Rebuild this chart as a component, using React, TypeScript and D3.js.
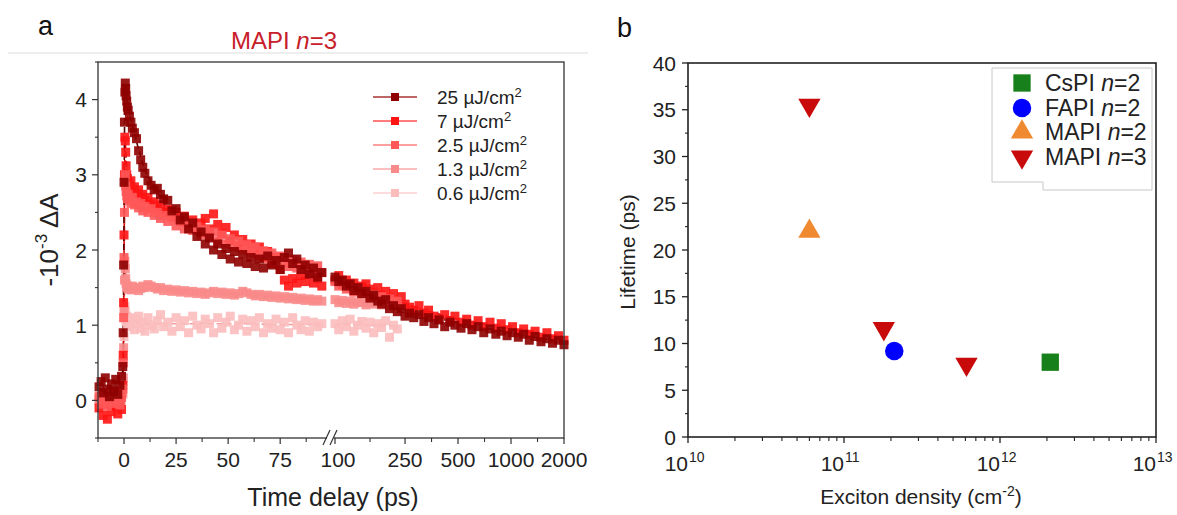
import React from "react";
import * as d3 from "d3";

// ---- panel a : transient absorption kinetics, MAPI n=3 ----
const fluenceLabels = ["25", "7", "2.5", "1.3", "0.6"];

// delay times (ps) before the axis break
const timeEarly = [
  -12, -11, -10, -9, -8, -7, -6, -5, -4, -3, -2, -1.2,
  -0.6, -0.4, -0.2, 0, 0.2, 0.4, 0.6, 0.8, 1.0, 1.3, 1.6, 2.0,
  2.6, 3.3, 4, 5, 6, 7, 8, 9, 10, 11.5, 13, 14.5, 16, 17.5, 19,
  21, 23, 25, 27, 29, 31, 33, 35, 37, 39, 41, 43, 45, 47, 49, 51, 53, 55, 57, 59,
  61, 63, 65, 67, 69, 71, 73, 75, 77, 79, 81, 83, 85, 87, 89, 91, 93, 95,
];
// delay times (ps) after the axis break
const timeLate = [
  100, 105, 110, 116, 122, 128, 135, 142, 150, 158, 166, 175, 184, 194, 204, 215, 226,
  238, 250, 265, 280, 300, 320, 340, 365, 390, 420, 450, 480, 520, 560, 600, 650, 700,
  760, 820, 880, 950, 1020, 1100, 1180, 1270, 1370, 1480, 1600, 1720, 1860, 2000,
];

const early25 = [
  0.18, 0.25, 0.1, 0.3, 0.15, 0.05, 0.22, 0.12, 0.28, 0.08, 0.2, 0.32,
  0.45, 0.9, 1.8, 2.9, 3.7, 4.1, 4.22, 4.15, 4.05, 3.98, 3.9, 3.86,
  3.78, 3.7, 3.62, 3.56, 3.48, 3.32, 3.2, 3.1, 3.02, 2.92, 2.86, 2.8, 2.82, 2.74, 2.68,
  2.66, 2.52, 2.55, 2.4, 2.44, 2.28, 2.36, 2.18, 2.24, 2.08, 2.16, 2.0, 2.08, 1.94, 2.02, 1.88,
  1.98, 1.84, 1.94, 1.82, 1.9, 1.78, 1.88, 1.76, 1.92, 1.8, 1.86, 1.74, 1.9, 1.96, 1.82, 1.88,
  1.74, 1.8, 1.68, 1.76, 1.64, 1.7,
];
const early7 = [
  -0.1, 0.05, -0.2, -0.05, -0.25, 0.02, -0.15, -0.08, 0.1, -0.18, 0.0, -0.12,
  0.2, 0.6, 1.3, 2.2, 3.0, 3.5, 3.45, 3.3, 3.12, 3.0, 2.95, 2.9,
  2.86, 2.92, 2.8, 2.84, 2.75, 2.8, 2.7, 2.74, 2.66, 2.7, 2.6, 2.64, 2.55, 2.6, 2.5,
  2.54, 2.44, 2.5, 2.38, 2.45, 2.32, 2.4, 2.3, 2.36, 2.42, 2.28, 2.48, 2.34, 2.22, 2.3, 2.12,
  2.2, 2.05, 2.14, 2.02, 2.08, 1.96, 2.04, 1.9, 1.98, 1.82, 1.9, 1.74, 1.6, 1.52, 1.62, 1.56,
  1.66, 1.58, 1.68, 1.56, 1.62, 1.52,
];
const early2p5 = [
  0.05, -0.05, 0.1, 0.0, -0.08, 0.06, 0.02, -0.04, 0.08, 0.0, -0.06, 0.04,
  0.15, 0.5, 1.1, 1.9, 2.5, 2.9, 3.0, 2.85, 2.78, 2.72, 2.68, 2.74,
  2.66, 2.62, 2.7, 2.6, 2.64, 2.56, 2.62, 2.52, 2.58, 2.5, 2.55, 2.46, 2.5, 2.42, 2.46,
  2.38, 2.44, 2.32, 2.4, 2.28, 2.35, 2.26, 2.31, 2.2, 2.27, 2.17, 2.24, 2.12, 2.2, 2.08, 2.15,
  2.04, 2.12, 2.0, 2.07, 1.96, 2.04, 1.92, 1.99, 1.88, 1.96, 1.84, 1.92, 1.83, 1.78, 1.87, 1.76,
  1.84, 1.74, 1.81, 1.72, 1.79, 1.7,
];
const early1p3 = [
  0.02, -0.04, 0.06, 0.0, 0.04, -0.02, 0.05, -0.05, 0.03, 0.0, -0.03, 0.05,
  0.1, 0.3, 0.7, 1.2, 1.6, 1.85, 1.75, 1.62, 1.55, 1.5, 1.52, 1.48,
  1.5, 1.47, 1.52, 1.49, 1.5, 1.46, 1.49, 1.52, 1.5, 1.54, 1.52, 1.5, 1.48, 1.5, 1.46,
  1.48, 1.45, 1.47, 1.44, 1.46, 1.43, 1.45, 1.42, 1.44, 1.41, 1.43, 1.45, 1.42, 1.44, 1.41, 1.43,
  1.4, 1.42, 1.45, 1.43, 1.41, 1.39, 1.41, 1.38, 1.4, 1.37, 1.39, 1.36, 1.38, 1.35, 1.37, 1.34,
  1.36, 1.33, 1.35, 1.32, 1.34, 1.32,
];
const early0p6 = [
  0.0, 0.05, -0.05, 0.02, -0.02, 0.04, 0.0, -0.04, 0.03, -0.03, 0.02, 0.0,
  0.08, 0.25, 0.5, 0.85, 1.1, 1.25, 1.18, 1.1, 1.05, 1.12, 1.0, 1.08,
  0.98, 1.1, 1.02, 0.94, 1.08, 1.12, 0.96, 1.04, 0.92, 1.1, 1.0, 0.95, 1.06, 1.14, 0.98,
  1.04, 0.92, 1.1, 0.98, 1.06, 0.9, 1.12, 1.0, 0.95, 1.08, 1.02, 0.9, 1.1, 0.96, 1.04, 1.12,
  0.94, 1.0, 1.08, 0.92, 1.06, 0.98, 1.1, 0.9, 1.02, 0.96, 1.08, 0.94, 1.04, 0.9, 1.1, 1.0,
  0.94, 1.06, 0.92, 1.04, 0.98, 1.02,
];

const late25 = [
  1.64, 1.58, 1.6, 1.52, 1.55, 1.46, 1.5, 1.42, 1.45, 1.36, 1.4, 1.32, 1.28, 1.34, 1.22, 1.26,
  1.18, 1.22, 1.12, 1.16, 1.1, 1.14, 1.05, 1.1, 1.02, 1.07, 0.98, 1.04, 1.0, 0.96, 1.02, 0.94,
  0.98, 0.9, 0.95, 0.88, 0.92, 0.86, 0.9, 0.84, 0.88, 0.8, 0.85, 0.78, 0.82, 0.76, 0.8, 0.74,
];
const late7 = [
  1.6, 1.66, 1.54, 1.6, 1.5, 1.56, 1.46, 1.52, 1.55, 1.48, 1.44, 1.5, 1.4, 1.45, 1.36, 1.42,
  1.32, 1.38, 1.28, 1.24, 1.2, 1.26, 1.16, 1.2, 1.12, 1.08, 1.14, 1.06, 1.12, 1.04, 1.08, 1.0,
  1.06, 0.98, 1.04, 0.96, 1.02, 0.94, 0.98, 0.9, 0.95, 0.88, 0.92, 0.84, 0.9, 0.82, 0.86, 0.8,
];
const late2p5 = [1.58, 1.52, 1.55, 1.48, 1.5, 1.44, 1.47, 1.42, 1.44, 1.38, 1.41, 1.36, 1.38, 1.33, 1.35, 1.3, 1.32];
const late1p3 = [1.34, 1.3, 1.33, 1.29, 1.32, 1.28, 1.31, 1.3, 1.27, 1.3, 1.28, 1.31, 1.27, 1.29, 1.26, 1.28, 1.27];
const late0p6 = [1.02, 0.94, 1.06, 0.98, 1.08, 0.92, 1.0, 1.05, 0.96, 1.04, 0.9, 1.02, 0.97, 1.06, 0.84, 1.0, 0.95];

// fitted curves (dashed)
const fitTimeEarly = [-12, -1, -0.4, 0, 0.3, 0.6, 1, 2, 4, 6, 8, 10, 15, 20, 30, 40, 50, 60, 70, 80, 90, 95];
const fitTimeLate = [100, 150, 226, 300, 500, 1000, 2000];
const fitEarly25 = [0.15, 0.15, 0.6, 2.6, 3.9, 4.2, 4.1, 3.88, 3.65, 3.44, 3.24, 3.06, 2.8, 2.62, 2.36, 2.17, 2.03, 1.93, 1.85, 1.78, 1.72, 1.69];
const fitEarly7 = [-0.05, -0.05, 0.4, 1.9, 3.0, 3.45, 3.2, 2.95, 2.86, 2.8, 2.74, 2.68, 2.58, 2.48, 2.36, 2.25, 2.14, 2.03, 1.92, 1.82, 1.72, 1.68];
const fitEarly2p5 = [0.02, 0.02, 0.35, 1.6, 2.6, 2.95, 2.78, 2.68, 2.64, 2.6, 2.57, 2.55, 2.48, 2.42, 2.3, 2.2, 2.1, 2.02, 1.94, 1.87, 1.8, 1.77];
const fitEarly1p3 = [0.01, 0.01, 0.2, 1.0, 1.6, 1.8, 1.6, 1.52, 1.5, 1.5, 1.49, 1.49, 1.48, 1.47, 1.45, 1.44, 1.42, 1.4, 1.38, 1.36, 1.35, 1.34];
const fitEarly0p6 = [0, 0, 0.15, 0.7, 1.05, 1.15, 1.08, 1.04, 1.03, 1.03, 1.03, 1.02, 1.02, 1.02, 1.02, 1.02, 1.02, 1.02, 1.01, 1.01, 1.01, 1.01];
const fitLate25 = [1.62, 1.42, 1.24, 1.15, 1.03, 0.9, 0.77];
const fitLate7 = [1.63, 1.5, 1.33, 1.22, 1.08, 0.95, 0.82];
const fitLate2p5 = [1.56, 1.44, 1.32];
const fitLate1p3 = [1.32, 1.3, 1.28];
const fitLate0p6 = [1.01, 1.0, 0.99];

const yTicksA = [0, 1, 2, 3, 4];
const xTicksEarly = [0, 25, 50, 75];
const xTicksLate = [100, 250, 500, 1000, 2000];

// ---- panel b : lifetime vs exciton density ----
const sampleNames = ["CsPI", "FAPI", "MAPI", "MAPI"];
const sampleN = ["2", "2", "2", "3"];
const densityCs = [2.1e12];
const lifetimeCs = [8];
const densityFA = [2.1e11];
const lifetimeFA = [9.2];
const densityMA2 = [6e10];
const lifetimeMA2 = [22];
const densityMA3 = [6e10, 1.8e11, 6.1e11];
const lifetimeMA3 = [35.5, 11.6, 7.8];
const yTicksB = [0, 5, 10, 15, 20, 25, 30, 35, 40];
const xDecadesB = [10, 11, 12, 13];

const FONT = "'Liberation Sans', Arial, Helvetica, sans-serif";

const styleA = [
  { marker: "#8e0000", line: "#a83232", fit: "#5a0000" },
  { marker: "#ff1414", line: "#ff5050", fit: "#d00000" },
  { marker: "#ff5858", line: "#ff8080", fit: "#e03a3a" },
  { marker: "#f98a8a", line: "#f9a8a8", fit: "#e86a6a" },
  { marker: "#fbbcbc", line: "#fbd0d0", fit: "#f09a9a" },
];

export default function App() {
  // panel a scales
  const yA = d3.scaleLinear().domain([-0.5, 4.5]).range([438, 62]);
  const xEarly = d3.scaleLinear().domain([-12.5, 97]).range([98, 326]);
  const xLate = d3.scaleLog().domain([100, 2000]).range([335, 564]);
  const xA = (t: number) => (t < 98 ? xEarly(t) : xLate(t));

  const earlyVals = [early25, early7, early2p5, early1p3, early0p6];
  const lateVals = [late25, late7, late2p5, late1p3, late0p6];
  const fitEarlyVals = [fitEarly25, fitEarly7, fitEarly2p5, fitEarly1p3, fitEarly0p6];
  const fitLateVals = [fitLate25, fitLate7, fitLate2p5, fitLate1p3, fitLate0p6];

  const pts = (ts: number[], vs: number[]) =>
    vs.map((v, i) => [ts[i], v] as [number, number]).filter((p) => p[0] !== undefined);

  const line = d3
    .line<[number, number]>()
    .x((d) => xA(d[0]))
    .y((d) => yA(d[1]));

  const drawOrder = [4, 3, 1, 2, 0];
  const sq = 9;

  const minorEarly = [-12.5, 12.5, 37.5, 62.5, 87.5];
  const minorLate = xTicksLate.slice(1).map((t, i) => Math.sqrt(t * xTicksLate[i]));

  // panel b scales
  const xB = d3.scaleLog().domain([1e10, 1e13]).range([688, 1156]);
  const yB = d3.scaleLinear().domain([0, 40]).range([437, 63]);
  const minorB: number[] = [];
  [10, 11, 12].forEach((e) => {
    for (let m = 2; m <= 9; m++) minorB.push(m * Math.pow(10, e));
  });
  const minorYB = d3.range(2.5, 40, 5);

  const sym = (type: d3.SymbolType, size: number) => d3.symbol().type(type).size(size)() || "";
  const squarePath = sym(d3.symbolSquare, 300);
  const circlePath = sym(d3.symbolCircle, 270);
  const triPath = sym(d3.symbolTriangle, 215);

  const bSeries = [
    { xs: densityCs, ys: lifetimeCs, path: squarePath, rot: 0, color: "#17801a" },
    { xs: densityFA, ys: lifetimeFA, path: circlePath, rot: 0, color: "#0000ff" },
    { xs: densityMA2, ys: lifetimeMA2, path: triPath, rot: 0, color: "#f08a30" },
    { xs: densityMA3, ys: lifetimeMA3, path: triPath, rot: 180, color: "#c80a0a" },
  ];
  const legendRowsB = [83, 108, 132, 157];
  const legendRowsA = [97, 121, 145, 169, 193];

  return (
    <svg
      width={1177}
      height={515}
      style={{ position: "absolute", left: 0, top: 0, background: "#fff", display: "block" }}
      fontFamily={FONT}
    >
      <rect width={1177} height={515} fill="#fff" />

      {/* ===== panel a ===== */}
      <text x={38} y={35} fontSize={27} fill="#111">a</text>
      <text x={284} y={49} fontSize={24} fill="#c8202a" textAnchor="middle">
        MAPI <tspan fontStyle="italic">n</tspan>=3
      </text>
      <line x1={8} x2={588} y1={53} y2={53} stroke="#dcdcdc" strokeWidth={1} />

      {/* fits */}
      {drawOrder.map((s) => (
        <g key={"fit" + s} fill="none" stroke={styleA[s].fit} strokeWidth={1.6} strokeDasharray="6,3">
          <path d={line(pts(fitTimeEarly, fitEarlyVals[s])) || ""} />
          <path d={line(pts(fitTimeLate, fitLateVals[s])) || ""} />
        </g>
      ))}

      {/* data squares */}
      {drawOrder.map((s) => (
        <g key={"pts" + s} fill={styleA[s].marker} fillOpacity={0.9}>
          {pts(timeEarly, earlyVals[s])
            .concat(pts(timeLate, lateVals[s]))
            .map((d, i) => (
              <rect key={i} x={xA(d[0]) - sq / 2} y={yA(d[1]) - sq / 2} width={sq} height={sq} />
            ))}
        </g>
      ))}

      {/* frame */}
      <rect x={98} y={62} width={466} height={376} fill="none" stroke="#333" strokeWidth={1.3} />
      {/* y axis ticks */}
      {yTicksA.map((v) => (
        <g key={"ya" + v}>
          <line x1={92} x2={98} y1={yA(v)} y2={yA(v)} stroke="#333" strokeWidth={1.2} />
          <text x={87} y={yA(v)} dy="0.36em" fontSize={21} textAnchor="end" fill="#222">{v}</text>
        </g>
      ))}
      {d3.range(-0.5, 4.6, 1).map((v) => (
        <line key={"yam" + v} x1={95} x2={98} y1={yA(v)} y2={yA(v)} stroke="#333" strokeWidth={1.1} />
      ))}
      {/* x axis ticks */}
      {xTicksEarly.map((t) => (
        <g key={"xe" + t}>
          <line x1={xEarly(t)} x2={xEarly(t)} y1={438} y2={444} stroke="#333" strokeWidth={1.2} />
          <text x={xEarly(t)} y={467} fontSize={21} textAnchor="middle" fill="#222">{t}</text>
        </g>
      ))}
      {minorEarly.map((t) => (
        <line key={"xem" + t} x1={xEarly(t)} x2={xEarly(t)} y1={438} y2={442} stroke="#333" strokeWidth={1.1} />
      ))}
      {xTicksLate.map((t) => (
        <g key={"xl" + t}>
          <line x1={xLate(t)} x2={xLate(t)} y1={438} y2={444} stroke="#333" strokeWidth={1.2} />
          <text x={xLate(t) + (t === 100 ? 3 : 0)} y={467} fontSize={21} textAnchor="middle" fill="#222">{t}</text>
        </g>
      ))}
      {minorLate.map((t) => (
        <line key={"xlm" + t} x1={xLate(t)} x2={xLate(t)} y1={438} y2={442} stroke="#333" strokeWidth={1.1} />
      ))}
      {/* axis break */}
      <rect x={327} y={434} width={7} height={8} fill="#fff" />
      <line x1={323} y1={445} x2={330} y2={430} stroke="#333" strokeWidth={1.2} />
      <line x1={330} y1={445} x2={337} y2={430} stroke="#333" strokeWidth={1.2} />

      <text x={333} y={506} fontSize={25} textAnchor="middle" fill="#222">Time delay (ps)</text>
      <text transform="translate(58,240) rotate(-90)" fontSize={26} textAnchor="middle" fill="#222">
        -10<tspan fontSize={17} dy={-11}>-3</tspan>
        <tspan dy={11}> ΔA</tspan>
      </text>

      {/* legend a */}
      {fluenceLabels.map((f, i) => (
        <g key={"lga" + f}>
          <line x1={373} x2={417} y1={legendRowsA[i]} y2={legendRowsA[i]} stroke={styleA[i].line} strokeWidth={1.3} />
          <rect x={391} y={legendRowsA[i] - 4} width={8} height={8} fill={styleA[i].marker} />
          <text x={437} y={legendRowsA[i]} dy="0.36em" fontSize={19} fill="#222">
            {f} µJ/cm<tspan fontSize={13} dy={-7}>2</tspan>
          </text>
        </g>
      ))}

      {/* ===== panel b ===== */}
      <text x={617} y={37} fontSize={27} fill="#111">b</text>

      {bSeries.map((s, si) =>
        s.xs.map((x, i) => (
          <path
            key={"b" + si + "-" + i}
            d={s.path}
            fill={s.color}
            transform={`translate(${xB(x)},${yB(s.ys[i])}) rotate(${s.rot})`}
          />
        ))
      )}

      <rect x={688} y={63} width={468} height={374} fill="none" stroke="#222" strokeWidth={1.6} />
      {yTicksB.map((v) => (
        <g key={"yb" + v}>
          <line x1={682} x2={688} y1={yB(v)} y2={yB(v)} stroke="#222" strokeWidth={1.3} />
          <text x={676} y={yB(v)} dy="0.36em" fontSize={21} textAnchor="end" fill="#222">{v}</text>
        </g>
      ))}
      {minorYB.map((v) => (
        <line key={"ybm" + v} x1={685} x2={688} y1={yB(v)} y2={yB(v)} stroke="#222" strokeWidth={1.1} />
      ))}
      {xDecadesB.map((e) => (
        <g key={"xb" + e}>
          <line x1={xB(Math.pow(10, e))} x2={xB(Math.pow(10, e))} y1={437} y2={443} stroke="#222" strokeWidth={1.3} />
          <text x={xB(Math.pow(10, e))} y={471} fontSize={21} textAnchor="end" fill="#222">10</text>
          <text x={xB(Math.pow(10, e)) + 1} y={462} fontSize={14} textAnchor="start" fill="#222">{e}</text>
        </g>
      ))}
      {minorB.map((v) => (
        <line key={"xbm" + v} x1={xB(v)} x2={xB(v)} y1={437} y2={441} stroke="#222" strokeWidth={1.1} />
      ))}
      <text x={921} y={504} fontSize={21} textAnchor="middle" fill="#222">
        Exciton density (cm<tspan fontSize={14} dy={-8}>-2</tspan>
        <tspan dy={8}>)</tspan>
      </text>
      <text transform="translate(635,252) rotate(-90)" fontSize={21} textAnchor="middle" fill="#222">
        Lifetime (ps)
      </text>

      {/* legend b */}
      <path d="M992,68 H1152 V190 H1043 V182 H992 Z" fill="#fff" stroke="#c8c8c8" strokeWidth={1} />
      {bSeries.map((s, i) => (
        <g key={"lgb" + i}>
          <path d={s.path} fill={s.color} transform={`translate(1022,${legendRowsB[i]}) rotate(${s.rot})`} />
          <text x={1045} y={legendRowsB[i]} dy="0.36em" fontSize={23} fill="#222">
            {sampleNames[i]} <tspan fontStyle="italic">n</tspan>={sampleN[i]}
          </text>
        </g>
      ))}
    </svg>
  );
}
